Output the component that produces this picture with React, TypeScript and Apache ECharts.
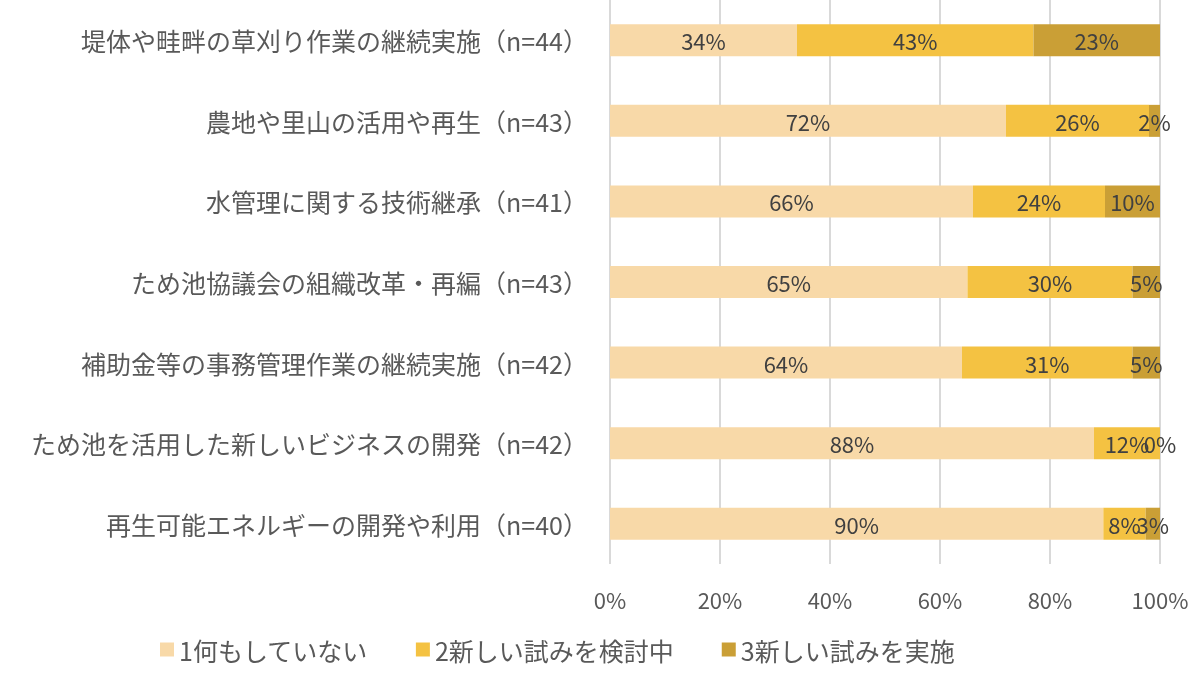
import React, { useEffect, useRef } from "react";
import * as echarts from "echarts";

const categories = [
  "堤体や畦畔の草刈り作業の継続実施（n=44）",
  "農地や里山の活用や再生（n=43）",
  "水管理に関する技術継承（n=41）",
  "ため池協議会の組織改革・再編（n=43）",
  "補助金等の事務管理作業の継続実施（n=42）",
  "ため池を活用した新しいビジネスの開発（n=42）",
  "再生可能エネルギーの開発や利用（n=40）",
];
const seriesNames = ["1何もしていない", "2新しい試みを検討中", "3新しい試みを実施"];
const nothing = [34, 72, 66, 65, 64, 88, 89.7];
const considering = [43, 26, 24, 30, 31, 12, 7.7];
const implemented = [23, 2, 10, 5, 5, 0, 2.6];
const xTicks = [0, 20, 40, 60, 80, 100];

const colors = ["#F8D9A8", "#F4C242", "#CA9F36"];
const FONT = "'Noto Sans CJK JP', 'Noto Sans', sans-serif";

export default function App() {
  const ref = useRef<HTMLDivElement>(null);
  useEffect(() => {
    if (!ref.current) return;
    const chart = echarts.init(ref.current, undefined, { renderer: "svg" });
    const values = [nothing, considering, implemented];
    chart.setOption({
      animation: false,
      textStyle: { fontFamily: FONT },
      grid: { left: 610, right: 40, top: 0, bottom: 119 },
      xAxis: {
        type: "value",
        min: xTicks[0],
        max: xTicks[xTicks.length - 1],
        interval: 20,
        axisLine: { show: false },
        axisTick: { show: false },
        splitLine: { lineStyle: { color: "#D9D9D9", width: 2 } },
        axisLabel: {
          formatter: "{value}%",
          fontSize: 22,
          color: "#595959",
          margin: 24,
          fontFamily: FONT,
        },
      },
      yAxis: {
        type: "category",
        data: categories,
        inverse: true,
        axisLine: { show: false },
        axisTick: { show: false },
        axisLabel: { fontSize: 25, color: "#595959", margin: 22, fontFamily: FONT },
      },
      legend: {
        left: 155,
        bottom: 16,
        itemWidth: 14,
        itemHeight: 14,
        itemGap: 48,
        icon: "rect",
        textStyle: { fontSize: 25, color: "#595959", fontFamily: FONT },
        data: seriesNames,
      },
      series: seriesNames.map((name, i) => ({
        name,
        type: "bar",
        stack: "total",
        barWidth: 32,
        itemStyle: { color: colors[i] },
        label: {
          show: true,
          position: "inside",
          fontSize: 22,
          color: "#404040",
          fontFamily: FONT,
          formatter: (p: any) => `${Math.round(p.value)}%`,
        },
        data: values[i],
      })),
    });
    return () => chart.dispose();
  }, []);
  return (
    <div
      ref={ref}
      style={{ position: "fixed", left: 0, top: 0, width: 1200, height: 683 }}
    />
  );
}
